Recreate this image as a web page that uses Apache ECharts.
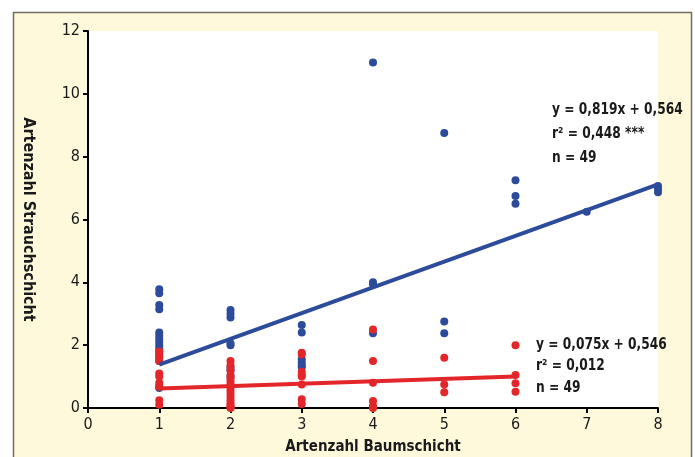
<!DOCTYPE html>
<html><head><meta charset="utf-8">
<script src="https://cdn.jsdelivr.net/npm/echarts@6/dist/echarts.min.js"></script>
<style>html,body{margin:0;padding:0;background:#fff}#c{width:695px;height:457px}</style>
</head><body><div id="c"></div>
<script>
// Data
const xTicks = [0,1,2,3,4,5,6,7,8];
const yTicks = [0,2,4,6,8,10,12];
const blueX = [1,1,1,1,1,1,1,1,1,1,1,1,1,1,1,
  2,2,2,2,2,2,2,2,2,
  3,3,3,3,3,3,
  4,4,4,4,
  5,5,5,
  6,6,6,
  7,
  8,8,8];
const blueY = [3.78,3.65,3.28,3.14,2.4,2.3,2.2,2.1,2.0,1.9,1.8,1.7,1.6,1.5,0.64,
  3.12,3.0,2.88,2.05,2.0,1.3,1.2,1.0,0.7,
  2.64,2.4,1.55,1.45,1.35,1.3,
  11.0,4.0,3.95,2.38,
  8.75,2.75,2.38,
  7.25,6.75,6.5,
  6.25,
  7.07,6.97,6.87];
const redX = [1,1,1,1,1,1,1,1,1,1,
  2,2,2,2,2,2,2,2,2,2,2,2,2,2,2,2,
  3,3,3,3,3,3,3,3,
  4,4,4,4,4,4,
  5,5,5,
  6,6,6,6];
const redY = [1.8,1.65,1.5,1.1,1.0,0.8,0.7,0.68,0.25,0.1,
  1.5,1.35,1.2,1.05,0.95,0.85,0.75,0.65,0.55,0.45,0.35,0.25,0.15,0.08,0.03,0.0,
  1.76,1.7,1.15,1.05,1.0,0.75,0.28,0.13,
  2.5,1.5,0.8,0.22,0.06,0.0,
  1.6,0.75,0.5,
  2.0,1.05,0.79,0.52];
const blueLine = [[1,1.38],[8,7.12]];
const redLine = [[1,0.62],[6,1.0]];
const blueText = ['y = 0,819x + 0,564','r² = 0,448 ***','n = 49'];
const redText = ['y = 0,075x + 0,546','r² = 0,012','n = 49'];
const xName = 'Artenzahl Baumschicht';
const yName = 'Artenzahl Strauchschicht';

const BLUE = '#2d4b9b', RED = '#e3262a';
const FONT = '"DejaVu Sans Condensed","Liberation Sans Narrow",sans-serif';
const zip = (a,b)=>a.map((v,i)=>[v,b[i]]);

const chart = echarts.init(document.getElementById('c'), null, {renderer:'canvas'});
const txtStyle = {fontFamily:FONT, fontSize:16, fontWeight:'bold', fill:'#1a1a1a', lineHeight:24, x:0, y:0, textVerticalAlign:'top'};
chart.setOption({
  backgroundColor:'#fff',
  animation:false,
  graphic:[
    {type:'rect', z:-10, shape:{x:13.5,y:12.5,width:678,height:470}, style:{fill:'#fff9db', stroke:'#6e6e62', lineWidth:1.5}},
    {type:'text', z:10, x:552, y:98, scaleX:0.85, style:Object.assign({}, txtStyle, {text:blueText.join('\n')})},
    {type:'text', z:10, x:536, y:334, scaleX:0.85, style:Object.assign({}, txtStyle, {text:redText.join('\n'), lineHeight:21.5})}
  ],
  grid:{left:88, right:37, top:31, bottom:49, show:true, backgroundColor:'#fff', borderWidth:0, outerBoundsMode:'none', containLabel:false},
  xAxis:{type:'value', min:0, max:8, interval:1,
    name:xName, nameLocation:'middle', nameGap:32,
    nameTextStyle:{fontFamily:FONT, fontSize:15, fontWeight:'bold', color:'#1a1a1a'},
    axisLine:{lineStyle:{color:'#000', width:2}},
    axisTick:{show:true, length:5, lineStyle:{color:'#000', width:2}},
    axisLabel:{fontFamily:FONT, fontSize:16, color:'#1a1a1a', margin:9},
    splitLine:{show:false}},
  yAxis:{type:'value', min:0, max:12, interval:2,
    name:yName, nameLocation:'middle', nameGap:52, nameRotate:-90,
    nameTextStyle:{fontFamily:FONT, fontSize:16, fontWeight:'bold', color:'#1a1a1a'},
    axisLine:{show:true, lineStyle:{color:'#000', width:2}},
    axisTick:{show:true, length:5, lineStyle:{color:'#000', width:2}},
    axisLabel:{fontFamily:FONT, fontSize:16, color:'#1a1a1a', margin:8},
    splitLine:{show:false}},
  series:[
    {type:'scatter', data:zip(blueX,blueY), symbolSize:8, itemStyle:{color:BLUE, opacity:1}, z:3},
    {type:'scatter', data:zip(redX,redY), symbolSize:8, itemStyle:{color:RED, opacity:1}, z:4},
    {type:'line', data:blueLine, symbol:'none', lineStyle:{color:BLUE, width:4}, z:5},
    {type:'line', data:redLine, symbol:'none', lineStyle:{color:RED, width:4}, z:6}
  ]
});
</script></body></html>
